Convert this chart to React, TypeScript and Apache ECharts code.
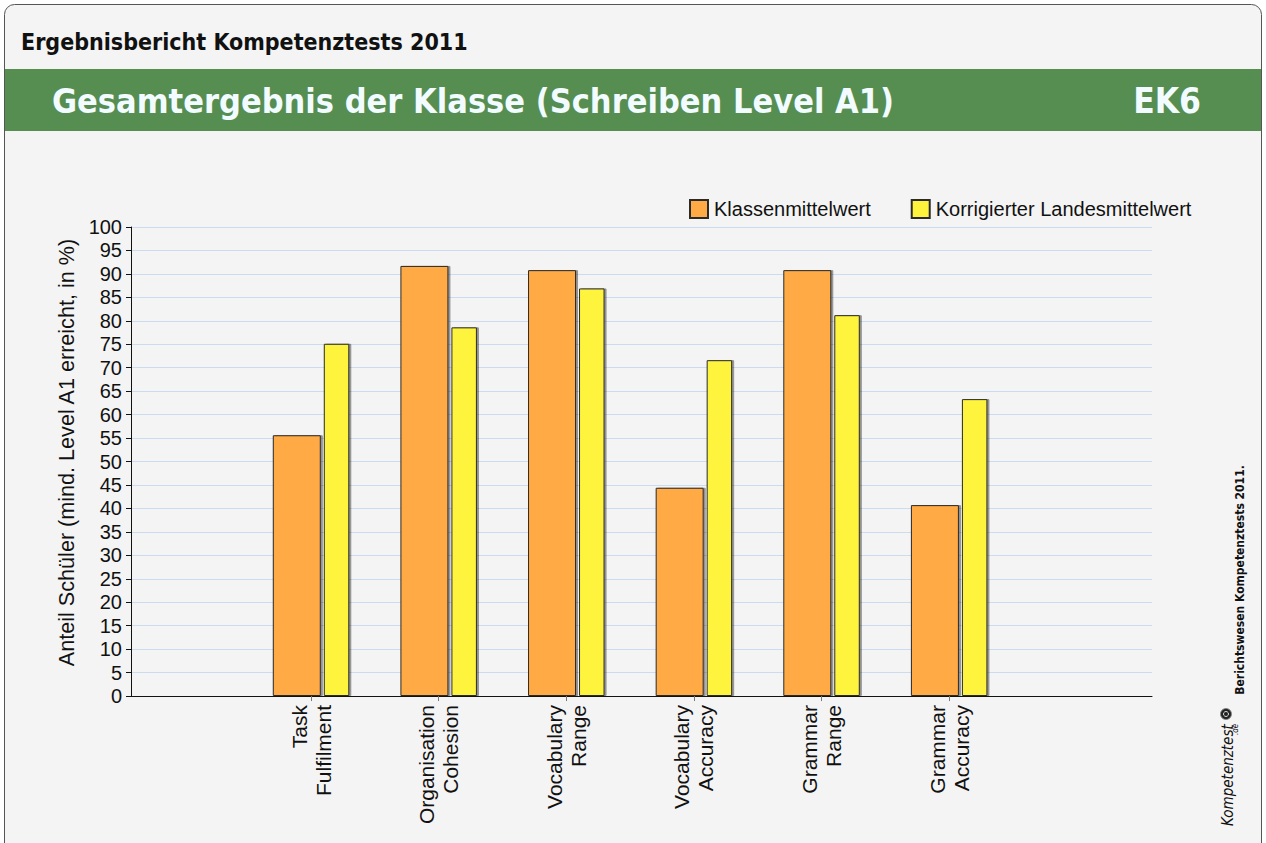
import React, { useEffect, useRef } from 'react';
import * as echarts from 'echarts';

const categories = [
  'Task\nFulfilment',
  'Organisation\nCohesion',
  'Vocabulary\nRange',
  'Vocabulary\nAccuracy',
  'Grammar\nRange',
  'Grammar\nAccuracy',
];
const klassenmittelwert = [55.6, 91.7, 90.8, 44.4, 90.8, 40.7];
const landesmittelwert = [75.1, 78.6, 86.9, 71.6, 81.2, 63.3];
const seriesNames = ['Klassenmittelwert', 'Korrigierter Landesmittelwert'];
const yMin = 0;
const yMax = 100;
const yInterval = 5;

const headerTitle = 'Ergebnisbericht Kompetenztests 2011';
const bandTitle = 'Gesamtergebnis der Klasse (Schreiben Level A1)';
const bandCode = 'EK6';
const yAxisName = 'Anteil Schüler (mind. Level A1 erreicht, in %)';
const sideNote = 'Berichtswesen Kompetenztests 2011.';

const ORANGE = '#FFAA45';
const YELLOW = '#FFF43C';
const GREEN = '#568E52';
const GRID_LINE = '#CCDCF0';
const BG = '#F4F4F4';
const FONT = '"Liberation Sans", Arial, sans-serif';
const HFONT = '"DejaVu Sans Condensed", "DejaVu Sans", sans-serif';

export default function App() {
  const ref = useRef<HTMLDivElement>(null);
  useEffect(() => {
    if (!ref.current) return;
    const chart = echarts.init(ref.current, undefined, { renderer: 'svg' });
    const padCats = ['', ...categories, ' '];
    const padK = [null, ...klassenmittelwert, null];
    const padL = [null, ...landesmittelwert, null];
    const barStyle = (color: string) => ({
      color,
      borderColor: '#2a2a2a',
      borderWidth: 1,
      shadowColor: 'rgba(0,0,0,0.4)',
      shadowOffsetX: 2,
      shadowOffsetY: 0,
      shadowBlur: 1,
    });
    const option: any = {
      animation: false,
      backgroundColor: '#ffffff',
      graphic: [
        {
          type: 'rect',
          z: -10,
          shape: { x: 4.5, y: 4.5, width: 1257, height: 860, r: [10, 10, 0, 0] },
          style: { fill: BG, stroke: '#555', lineWidth: 1 },
          silent: true,
        },
        {
          type: 'rect',
          z: -9,
          shape: { x: 5, y: 69, width: 1256, height: 62 },
          style: { fill: GREEN },
          silent: true,
        },
        {
          type: 'text',
          x: 21,
          y: 42,
          style: {
            text: headerTitle,
            fill: '#111',
            font: `bold 23px ${HFONT}`,
            textAlign: 'left',
            textVerticalAlign: 'middle',
          },
        },
        {
          type: 'text',
          x: 52,
          y: 101,
          style: {
            text: bandTitle,
            fill: '#F2FBFF',
            font: `bold 34px ${HFONT}`,
            textAlign: 'left',
            textVerticalAlign: 'middle',
          },
        },
        {
          type: 'text',
          x: 1201,
          y: 101,
          style: {
            text: bandCode,
            fill: '#F2FBFF',
            font: `bold 35px ${HFONT}`,
            textAlign: 'right',
            textVerticalAlign: 'middle',
          },
        },
        {
          type: 'text',
          x: 1240,
          y: 580,
          rotation: Math.PI / 2,
          style: {
            text: sideNote,
            fill: '#111',
            font: `bold 12px ${HFONT}`,
            textAlign: 'center',
            textVerticalAlign: 'middle',
          },
        },
        {
          type: 'text',
          x: 1228,
          y: 826,
          rotation: Math.PI / 2,
          style: {
            text: 'Kompetenztest',
            fill: '#111',
            font: `italic 15px ${HFONT}`,
            textAlign: 'left',
            textVerticalAlign: 'middle',
          },
        },
        {
          type: 'text',
          x: 1235,
          y: 735,
          rotation: Math.PI / 2,
          style: {
            text: '.de',
            fill: '#111',
            font: `italic 8px ${HFONT}`,
            textAlign: 'left',
            textVerticalAlign: 'middle',
          },
        },
        {
          type: 'circle',
          shape: { cx: 1226, cy: 714, r: 5.5 },
          style: { fill: '#222', stroke: '#888', lineWidth: 1 },
        },
        {
          type: 'circle',
          shape: { cx: 1226, cy: 714, r: 2.5 },
          style: { fill: 'none', stroke: '#ddd', lineWidth: 1 },
        },
      ],
      legend: {
        left: 684,
        top: 194,
        itemWidth: 18,
        itemHeight: 18,
        itemGap: 40,
        icon: 'rect',
        textStyle: { fontFamily: FONT, fontSize: 20, color: '#111', padding: [0, 0, 0, 1] },
        data: seriesNames,
      },
      grid: [
        { left: 131, top: 227, width: 1021, height: 469 },
        { left: 119.6, top: 227, width: 1021, height: 469 },
      ],
      xAxis: [
        {
          type: 'category',
          gridIndex: 0,
          data: padCats,
          axisLine: { show: true, lineStyle: { color: '#111', width: 1 } },
          axisTick: { show: false },
          axisLabel: { show: false },
          splitLine: { show: false },
        },
        {
          type: 'category',
          gridIndex: 1,
          data: padCats,
          axisLine: { show: false },
          axisTick: {
            show: true,
            alignWithLabel: true,
            length: 5,
            interval: (i: number, v: string) => v.trim() !== '',
            lineStyle: { color: '#777' },
          },
          axisLabel: {
            interval: 0,
            rotate: 90,
            margin: 9,
            fontFamily: FONT,
            fontSize: 21,
            lineHeight: 24,
            color: '#111',
          },
          splitLine: { show: false },
        },
      ],
      yAxis: [
        {
          type: 'value',
          gridIndex: 0,
          min: yMin,
          max: yMax,
          interval: yInterval,
          name: yAxisName,
          nameLocation: 'middle',
          nameRotate: 90,
          nameGap: 49,
          nameTextStyle: {
            fontFamily: FONT,
            fontSize: 21.6,
            color: '#111',
            padding: [0, 0, 0, 18],
          },
          axisLine: { show: true, lineStyle: { color: '#111', width: 1 } },
          axisTick: { show: true, inside: false, length: 5, lineStyle: { color: '#111' } },
          axisLabel: { margin: 9, fontFamily: FONT, fontSize: 20, color: '#111' },
          splitLine: { show: true, lineStyle: { color: GRID_LINE, width: 1 } },
        },
        {
          type: 'value',
          gridIndex: 1,
          min: yMin,
          max: yMax,
          interval: yInterval,
          show: false,
          splitLine: { show: false },
        },
      ],
      series: [
        {
          name: seriesNames[0],
          type: 'bar',
          xAxisIndex: 1,
          yAxisIndex: 1,
          data: padK,
          barWidth: 48,
          barGap: '6.25%',
          itemStyle: barStyle(ORANGE),
        },
        {
          name: seriesNames[1],
          type: 'bar',
          xAxisIndex: 1,
          yAxisIndex: 1,
          data: padL,
          barWidth: 25.5,
          barGap: '6.25%',
          itemStyle: barStyle(YELLOW),
        },
      ],
    };
    chart.setOption(option);
    return () => chart.dispose();
  }, []);
  return (
    <div
      ref={ref}
      style={{ position: 'fixed', left: 0, top: 0, width: 1266, height: 843 }}
    />
  );
}
